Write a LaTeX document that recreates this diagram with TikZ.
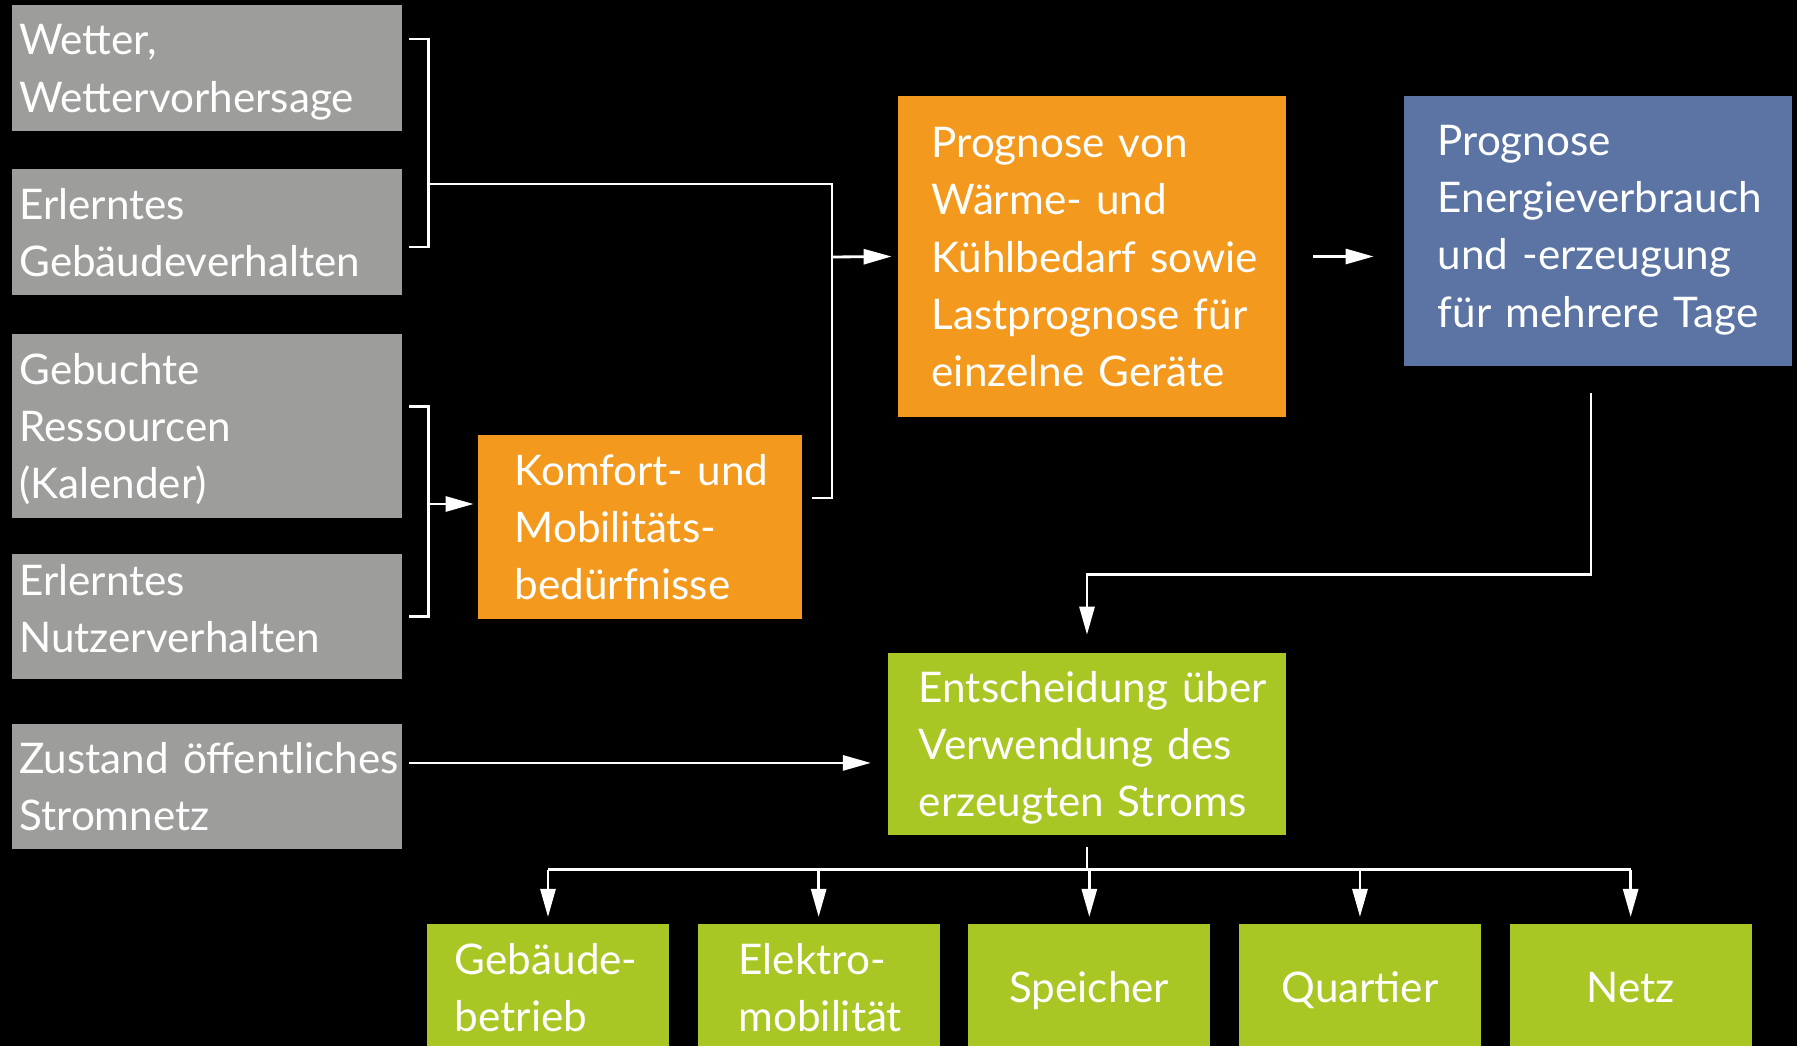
\documentclass[tikz,border=0pt]{standalone}
\usepackage{fontspec}
\setmainfont{Lato}
\usepackage{xcolor}
\usepackage{tikz}
\usetikzlibrary{positioning,arrows.meta,calc}
\definecolor{boxgray}{HTML}{9D9D9B}
\definecolor{boxorange}{HTML}{F39A1E}
\definecolor{boxblue}{HTML}{5B74A4}
\definecolor{boxgreen}{HTML}{A9C724}
\newcommand{\nodetop}{13.8pt}

\begin{document}
\begin{tikzpicture}[x=0.01cm,y=-0.01cm,font=\fontsize{12}{16.3}\selectfont,text=white,
    toprule/.code={\renewcommand{\nodetop}{#1}},
    every node/.style={outer sep=0pt,inner ysep=0pt,
      execute at begin node={\hyphenpenalty=10000\exhyphenpenalty=10000\rule{0pt}{\nodetop}},
      execute at end node={\strut}},
    inbox/.style={fill=boxgray,text width=3.75cm,inner xsep=0.07cm,align=left},
    orangebox/.style={fill=boxorange,align=left},
    bluebox/.style={fill=boxblue,align=left},
    greenbox/.style={fill=boxgreen,align=left},
    outbox/.style={fill=boxgreen,minimum height=1.26cm,text width=1.86cm,inner xsep=0.28cm,align=center},
    link/.style={white,line width=0.8pt},
    arr/.style={link,-{Triangle[length=0.28cm,width=0.15cm]}}]
      \useasboundingbox (0,0) rectangle (1797,1046);
      \fill[black] (0,0) rectangle (1797,1046);

      % inputs
      \node[inbox,minimum height=1.26cm] (wetter) at (207,68) {Wetter,\\Wettervorhersage};
      \node[inbox,minimum height=1.26cm,below=0.38cm of wetter] (gebverh) {Erlerntes\\Gebäudeverhalten};
      \node[inbox,minimum height=1.84cm,below=0.385cm of gebverh] (kalender) {Gebuchte\\Ressourcen\\(Kalender)};
      \node[inbox,minimum height=1.25cm,toprule=9.2pt,below=0.36cm of kalender] (nutzverh) {Erlerntes\\Nutzerverhalten};
      \node[inbox,minimum height=1.25cm,below=0.45cm of nutzverh] (netzzust) {Zustand~öffentliches\\Stromnetz};

      % forecasts
      \node[orangebox,text width=2.505cm,inner xsep=0.37cm,minimum height=1.835cm] (komfort) at (640,527) {Komfort-~und\\Mobilitäts-\\bedürfnisse};
      \node[orangebox,text width=3.205cm,inner xsep=0.34cm,minimum height=3.21cm] (prog) at (1092,256.5) {Prognose von\\Wärme- und\\Kühlbedarf~sowie\\Lastprognose~für\\einzelne Geräte};
      \node[bluebox,text width=3.205cm,inner xsep=0.34cm,minimum height=2.695cm,toprule=10.6pt] (energie) at (1598,231) {Prognose\\Energieverbrauch\\und~-erzeugung\\für~mehrere~Tage};
      \node[greenbox,text width=3.36cm,inner xsep=0.31cm,minimum height=1.825cm] (entsch) at (1087,744) {Entscheidung~über\\Verwendung des\\erzeugten Stroms};

      % uses
      \node[outbox,align=left] (gebbetr) at (548,987) {Gebäude-\\betrieb};
      \node[outbox,align=left,text width=1.6cm,inner xsep=0.41cm,right=0.285cm of gebbetr] (emob) {Elektro-\\mobilität};
      \node[outbox,right=0.285cm of emob] (speicher) {Speicher};
      \node[outbox,right=0.285cm of speicher] (quartier) {Quartier};
      \node[outbox,right=0.285cm of quartier] (netz) {Netz};

      \coordinate (b1) at (428,184);
      \coordinate (b2) at (428,504);
      \coordinate (join) at (832,257);
      \coordinate (split) at ($(entsch.south)+(0,34.5)$);

      \draw[link] ($(wetter.east)+(7.5,-29)$) -- ++(19,0) |- ($(gebverh.east)+(7.5,15)$);
      \draw[link] ($(kalender.east)+(7.5,-19)$) -- ++(19,0) |- ($(nutzverh.east)+(7.5,0)$);
      \draw[arr] (b2) -- ($(komfort.west)+(-4,-23)$);
      \draw[link] (b1) -| (join) |- ($(komfort.east)+(10,-29)$);
      \draw[arr] (join) -- ($(prog.west)+(-6,0)$);
      \draw[arr] ($(prog.east)+(27,0)$) -- ($(prog.east -| energie.west)+(-30,0)$);
      \draw[arr] ($(energie.south)+(-7,27.5)$) -- ++(0,181.5) -| ($(entsch.north)+(0,-18)$);
      \draw[arr] ($(netzzust.east)+(7.5,-23.5)$) -- ($(entsch.west |- netzzust.east)+(-17,-23.5)$);

      \draw[link] ($(entsch.south)+(0,11.5)$) -- (split);
      \draw[link] (split -| gebbetr.north) -- (split -| netz.north);
      \foreach \o in {gebbetr,emob,speicher,quartier,netz}
        \draw[arr] (split -| \o.north) -- ($(\o.north)+(0,-7)$);
    \end{tikzpicture}
\end{document}
